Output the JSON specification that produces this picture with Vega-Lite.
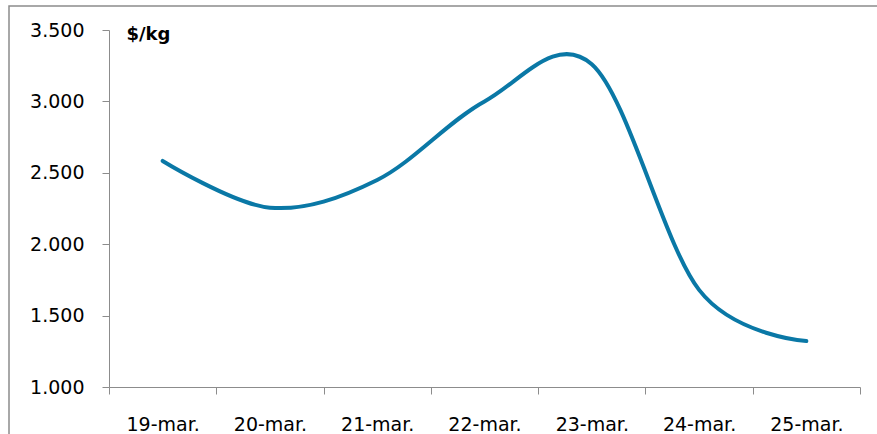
{
  "$schema": "https://vega.github.io/schema/vega-lite/v6.json",
  "autosize": {"type": "none"},
  "padding": {"left": 9, "top": 6, "right": -3, "bottom": -3},
  "width": 871,
  "height": 431,
  "background": "white",
  "config": {
    "view": {"stroke": "#8c8c8c", "strokeWidth": 1.5},
    "font": "DejaVu Sans"
  },
  "data": {
    "values": [
      {"fecha": "19-mar.", "precio": 2583},
      {"fecha": "20-mar.", "precio": 2256},
      {"fecha": "21-mar.", "precio": 2450},
      {"fecha": "22-mar.", "precio": 3000},
      {"fecha": "23-mar.", "precio": 3260},
      {"fecha": "24-mar.", "precio": 1680},
      {"fecha": "25-mar.", "precio": 1322}
    ]
  },
  "mark": {
    "type": "line",
    "interpolate": "cardinal",
    "color": "#0a78a6",
    "strokeWidth": 4,
    "strokeCap": "round"
  },
  "encoding": {
    "x": {
      "field": "fecha",
      "type": "ordinal",
      "sort": null,
      "scale": {"type": "band", "range": [100, 851], "paddingInner": 0, "paddingOuter": 0},
      "axis": {
        "title": null,
        "offset": -50,
        "tickBand": "extent",
        "domainColor": "#8c8c8c",
        "tickColor": "#8c8c8c",
        "tickSize": 7,
        "labelAngle": 0,
        "labelFontSize": 19,
        "labelColor": "#000000",
        "labelPadding": 21
      }
    },
    "y": {
      "field": "precio",
      "type": "quantitative",
      "scale": {"domain": [1000, 3500], "range": [381, 24], "nice": false, "zero": false},
      "axis": {
        "title": "$/kg",
        "titleAngle": 0,
        "titleAlign": "left",
        "titleBaseline": "alphabetic",
        "titleX": 17,
        "titleY": 33,
        "titleFontSize": 18,
        "titleFontWeight": "bold",
        "titleColor": "#000000",
        "offset": -100,
        "values": [1000, 1500, 2000, 2500, 3000, 3500],
        "labelExpr": "replace(format(datum.value, ','), ',', '.')",
        "grid": false,
        "domainColor": "#8c8c8c",
        "tickColor": "#8c8c8c",
        "tickSize": 7,
        "labelFontSize": 19,
        "labelColor": "#000000",
        "labelPadding": 18
      }
    }
  }
}
